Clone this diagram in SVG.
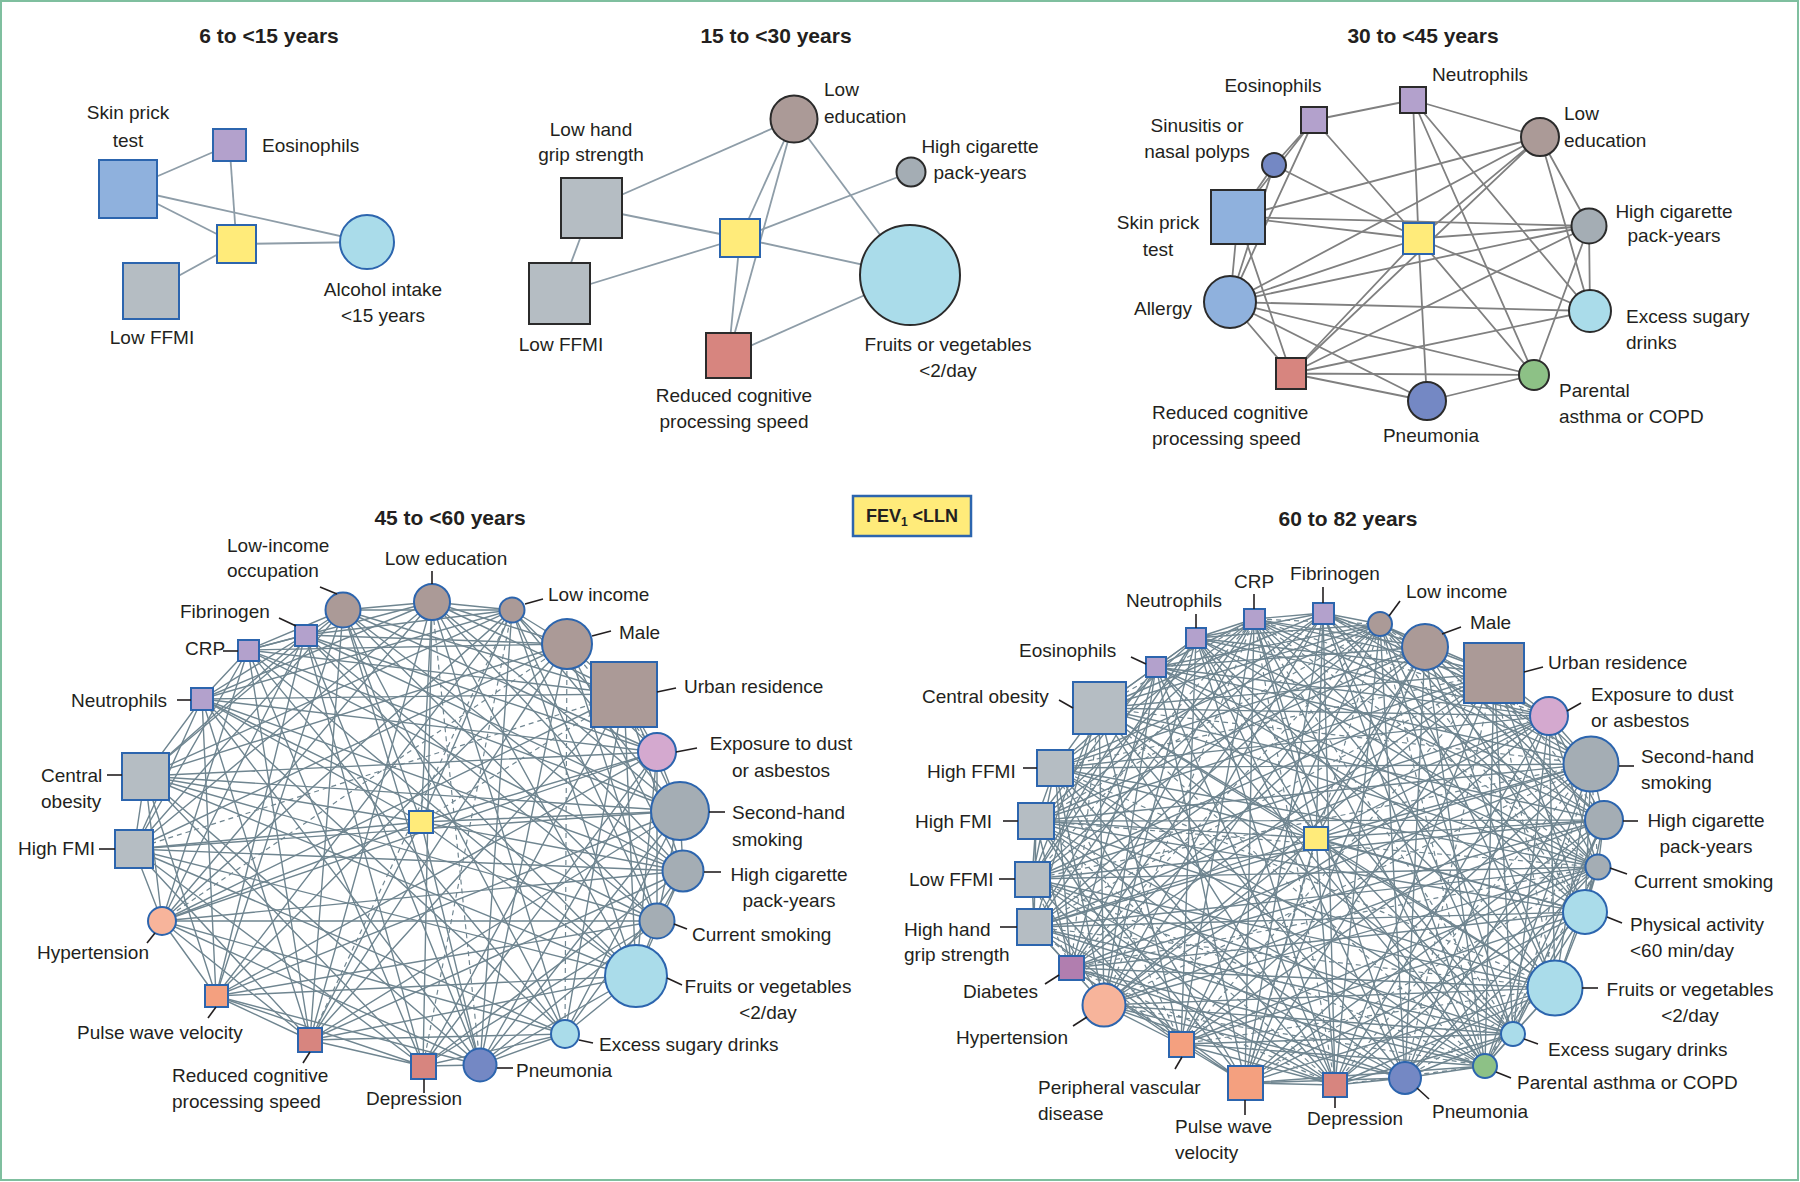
<svg xmlns="http://www.w3.org/2000/svg" width="1800" height="1182" viewBox="0 0 1800 1182">
<style>
text{font-family:"Liberation Sans",Arial,sans-serif;font-size:19px;fill:#231f20}
.ti{font-size:21px;font-weight:bold}
.m{text-anchor:middle}
.e12{stroke:#8e9da8;stroke-width:1.8;fill:none}
.e3{stroke:#808080;stroke-width:1.8;fill:none}
.e45{stroke:#6f8590;stroke-width:1.4;fill:none;stroke-linejoin:round}
.dash{stroke-dasharray:5 4;stroke-width:1.2}
.ld{stroke:#231f20;stroke-width:1.6}
.b{stroke:#2c65ae;stroke-width:2}
.k{stroke:#2b2b2b;stroke-width:2}
.yl{fill:#ffeb7a}.br{fill:#ab9a97}.gs{fill:#b5bdc3}.gc{fill:#a4adb4}.lb{fill:#aadcea}.bl{fill:#8fb1dd}.lv{fill:#b3a1cc}.sa{fill:#d7857f}.gr{fill:#8dc186}.pn{fill:#7488c4}.pk{fill:#d4a9cf}.pc{fill:#f7b49b}.or{fill:#f4a07f}.di{fill:#b17eaf}
</style>
<rect x="1" y="1" width="1797" height="1179" fill="#ffffff" stroke="#7fbf9f" stroke-width="2"/>

<g id="titles">
<text class="ti m" x="269" y="43">6 to &lt;15 years</text>
<text class="ti m" x="776" y="43">15 to &lt;30 years</text>
<text class="ti m" x="1423" y="43">30 to &lt;45 years</text>
<text class="ti m" x="450" y="525">45 to &lt;60 years</text>
<text class="ti m" x="1348" y="526">60 to 82 years</text>
</g>

<g id="legend">
<rect x="853" y="496" width="118" height="40" class="yl" stroke="#2c65ae" stroke-width="2.5"/>
<text x="912" y="522" class="m" style="font-weight:bold;font-size:18px">FEV<tspan style="font-size:12px" dy="4">1</tspan><tspan dy="-4"> &lt;LLN</tspan></text>
</g>

<g id="connectors">
<g id="p1-edges" class="e12">
<line x1="128" y1="189" x2="229.5" y2="145"/>
<line x1="128" y1="189" x2="367" y2="242"/>
<line x1="128" y1="189" x2="236.5" y2="244"/>
<line x1="229.5" y1="145" x2="236.5" y2="244"/>
<line x1="236.5" y1="244" x2="367" y2="242"/>
<line x1="151" y1="291" x2="236.5" y2="244"/>
</g>
<g id="p2-edges" class="e12">
<line x1="591.5" y1="208" x2="794" y2="119"/>
<line x1="591.5" y1="208" x2="740" y2="238"/>
<line x1="591.5" y1="208" x2="559.5" y2="293.5"/>
<line x1="559.5" y1="293.5" x2="740" y2="238"/>
<line x1="740" y1="238" x2="794" y2="119"/>
<line x1="740" y1="238" x2="911" y2="172"/>
<line x1="740" y1="238" x2="910" y2="275"/>
<line x1="740" y1="238" x2="728.5" y2="355.5"/>
<line x1="794" y1="119" x2="728.5" y2="355.5"/>
<line x1="794" y1="119" x2="910" y2="275"/>
<line x1="728.5" y1="355.5" x2="910" y2="275"/>
</g>
<g id="p3-edges" class="e3">
<path d="M1314,120L1413,100M1314,120L1274,165M1314,120L1238,217M1314,120L1230,302M1314,120L1418.5,238.5"/>
<path d="M1413,100L1540,137M1413,100L1418.5,238.5M1413,100L1590,311M1413,100L1534,375"/>
<path d="M1274,165L1238,217M1274,165L1230,302M1274,165L1418.5,238.5"/>
<path d="M1540,137L1238,217M1540,137L1230,302M1540,137L1418.5,238.5M1540,137L1291,373.5M1540,137L1589,226M1540,137L1590,311"/>
<path d="M1238,217L1589,226M1238,217L1418.5,238.5M1238,217L1291,373.5M1238,217L1230,302"/>
<path d="M1589,226L1418.5,238.5M1589,226L1230,302M1589,226L1291,373.5M1589,226L1590,311M1589,226L1534,375"/>
<path d="M1418.5,238.5L1590,311M1418.5,238.5L1427,401M1418.5,238.5L1534,375M1418.5,238.5L1291,373.5M1418.5,238.5L1230,302"/>
<path d="M1230,302L1590,311M1230,302L1534,375M1230,302L1427,401M1230,302L1291,373.5"/>
<path d="M1291,373.5L1590,311M1291,373.5L1534,375M1291,373.5L1427,401M1427,401L1534,375"/>
</g>
<g id="p4-edges" class="e45">
<path d="M432,602L343,610L512,610M624,694L343,610L657,752M683,871L343,610L657,921M565,1034L343,610L480,1065M310,1040L343,610L216,996M134,849L343,610L145,776M248,650L343,610L305,635"/>
<path d="M512,610L432,602L567,644M624,694L432,602L680,811M683,871L432,602L636,976M565,1034L432,602L423,1066M310,1040L432,602L162,921M134,849L432,602L202,699M432,602L248,650"/>
<path d="M567,644L512,610L657,752M680,811L512,610L657,921M636,976L512,610L480,1065M216,996L512,610L162,921M145,776L512,610L202,699M512,610L305,635"/>
<path d="M624,694L567,644L683,871M657,921L567,644L480,1065M310,1040L567,644L216,996M134,849L567,644L145,776M248,650L567,644L305,635"/>
<path d="M657,752L624,694L680,811M683,871L624,694L636,976M565,1034L624,694L423,1066M310,1040L624,694L162,921M202,699L624,694L248,650"/>
<path d="M680,811L657,752L657,921M636,976L657,752L480,1065M423,1066L657,752L216,996M162,921L657,752L145,776M202,699L657,752L305,635"/>
<path d="M683,871L680,811L657,921M565,1034L680,811L480,1065M310,1040L680,811L216,996M134,849L680,811L145,776M248,650L680,811L305,635"/>
<path d="M657,921L683,871L636,976M565,1034L683,871L423,1066M310,1040L683,871L162,921M134,849L683,871L202,699M683,871L248,650"/>
<path d="M636,976L657,921L480,1065M423,1066L657,921L216,996M162,921L657,921L145,776M202,699L657,921L305,635"/>
<path d="M565,1034L636,976L480,1065M310,1040L636,976L216,996M134,849L636,976L145,776M248,650L636,976L305,635"/>
<path d="M480,1065L565,1034L423,1066M310,1040L565,1034L162,921M134,849L565,1034L202,699M565,1034L248,650"/>
<path d="M423,1066L480,1065L216,996M162,921L480,1065L145,776M202,699L480,1065L305,635"/>
<path d="M310,1040L423,1066L216,996M134,849L423,1066L145,776M248,650L423,1066L305,635"/>
<path d="M216,996L310,1040L162,921M134,849L310,1040L202,699M310,1040L248,650"/>
<path d="M162,921L216,996L145,776M202,699L216,996L305,635"/>
<path d="M134,849L162,921L145,776M248,650L162,921L305,635"/>
<path d="M145,776L134,849L202,699M134,849L248,650"/>
<path d="M202,699L145,776L305,635M248,650L202,699L305,635M248,650L305,635"/>
<path d="M343,610L421,822L432,602M512,610L421,822L657,752M680,811L421,822L683,871M636,976L421,822L480,1065M310,1040L421,822L162,921M134,849L421,822L145,776M421,822L202,699"/>
<path class="dash" d="M432,602L480,1065M567,644L565,1034M162,921L567,644M512,610L423,1066M421,822L624,694M567,644L657,752M134,849L624,694M310,1040L512,610"/>
</g>
<g id="p5-edges" class="e45">
<path d="M1196,638L1156,667L1254,619M1380,624L1156,667L1425,647M1549,716L1156,667L1591,764M1598,867L1156,667L1585,912M1513,1034L1156,667L1485,1066M1335,1085L1156,667L1245,1083M1104,1005L1156,667L1071,968M1032,879L1156,667L1036,821M1156,667L1099,708"/>
<path d="M1254,619L1196,638L1323,613M1380,624L1196,638L1494,673M1549,716L1196,638L1604,820M1598,867L1196,638L1555,988M1513,1034L1196,638L1405,1078M1335,1085L1196,638L1181,1044M1104,1005L1196,638L1034,927M1032,879L1196,638L1055,768M1196,638L1099,708"/>
<path d="M1323,613L1254,619L1425,647M1494,673L1254,619L1591,764M1604,820L1254,619L1585,912M1555,988L1254,619L1485,1066M1405,1078L1254,619L1245,1083M1181,1044L1254,619L1071,968M1034,927L1254,619L1036,821M1254,619L1055,768"/>
<path d="M1380,624L1323,613L1425,647M1549,716L1323,613L1591,764M1598,867L1323,613L1585,912M1513,1034L1323,613L1485,1066M1335,1085L1323,613L1245,1083M1104,1005L1323,613L1071,968M1032,879L1323,613L1036,821M1323,613L1099,708"/>
<path d="M1425,647L1380,624L1494,673M1549,716L1380,624L1604,820M1598,867L1380,624L1555,988M1513,1034L1380,624L1405,1078M1335,1085L1380,624L1181,1044M1104,1005L1380,624L1034,927M1032,879L1380,624L1055,768M1380,624L1099,708"/>
<path d="M1494,673L1425,647L1591,764M1604,820L1425,647L1585,912M1555,988L1425,647L1485,1066M1405,1078L1425,647L1245,1083M1181,1044L1425,647L1071,968M1034,927L1425,647L1036,821M1425,647L1055,768"/>
<path d="M1549,716L1494,673L1591,764M1598,867L1494,673L1585,912M1513,1034L1494,673L1485,1066M1335,1085L1494,673L1245,1083M1104,1005L1494,673L1071,968M1032,879L1494,673L1036,821M1494,673L1099,708"/>
<path d="M1591,764L1549,716L1604,820M1598,867L1549,716L1555,988M1513,1034L1549,716L1405,1078M1335,1085L1549,716L1181,1044M1104,1005L1549,716L1034,927M1032,879L1549,716L1055,768M1549,716L1099,708"/>
<path d="M1604,820L1591,764L1585,912M1555,988L1591,764L1485,1066M1405,1078L1591,764L1245,1083M1181,1044L1591,764L1071,968M1034,927L1591,764L1036,821M1591,764L1055,768"/>
<path d="M1598,867L1604,820L1585,912M1513,1034L1604,820L1485,1066M1335,1085L1604,820L1245,1083M1104,1005L1604,820L1071,968M1032,879L1604,820L1036,821M1604,820L1099,708"/>
<path d="M1585,912L1598,867L1555,988M1513,1034L1598,867L1405,1078M1335,1085L1598,867L1181,1044M1104,1005L1598,867L1034,927M1032,879L1598,867L1055,768M1598,867L1099,708"/>
<path d="M1555,988L1585,912L1485,1066M1405,1078L1585,912L1245,1083M1181,1044L1585,912L1071,968M1034,927L1585,912L1036,821M1585,912L1055,768"/>
<path d="M1513,1034L1555,988L1485,1066M1335,1085L1555,988L1245,1083M1104,1005L1555,988L1071,968M1032,879L1555,988L1036,821M1555,988L1099,708"/>
<path d="M1485,1066L1513,1034L1405,1078M1335,1085L1513,1034L1181,1044M1104,1005L1513,1034L1034,927M1032,879L1513,1034L1055,768M1513,1034L1099,708"/>
<path d="M1405,1078L1485,1066L1245,1083M1181,1044L1485,1066L1071,968M1034,927L1485,1066L1036,821M1485,1066L1055,768"/>
<path d="M1335,1085L1405,1078L1245,1083M1104,1005L1405,1078L1071,968M1032,879L1405,1078L1036,821M1405,1078L1099,708"/>
<path d="M1245,1083L1335,1085L1181,1044M1104,1005L1335,1085L1034,927M1032,879L1335,1085L1055,768M1335,1085L1099,708"/>
<path d="M1181,1044L1245,1083L1071,968M1034,927L1245,1083L1036,821M1245,1083L1055,768"/>
<path d="M1104,1005L1181,1044L1071,968M1032,879L1181,1044L1036,821M1181,1044L1099,708"/>
<path d="M1071,968L1104,1005L1034,927M1032,879L1104,1005L1055,768M1104,1005L1099,708"/>
<path d="M1034,927L1071,968L1036,821M1071,968L1055,768M1032,879L1034,927L1036,821M1034,927L1099,708M1036,821L1032,879L1055,768M1032,879L1099,708M1036,821L1055,768L1099,708"/>
<path d="M1196,638L1316,838L1254,619M1323,613L1316,838L1425,647M1549,716L1316,838L1591,764M1604,820L1316,838L1585,912M1555,988L1316,838L1485,1066M1335,1085L1316,838L1245,1083M1104,1005L1316,838L1034,927M1036,821L1316,838L1099,708"/>
<path class="dash" d="M1380,624L1254,619L1549,716M1598,867L1254,619L1513,1034M1335,1085L1254,619L1104,1005M1032,879L1254,619L1099,708M1591,764L1380,624L1585,912M1485,1066L1380,624L1245,1083M1071,968L1380,624L1036,821M1604,820L1494,673L1555,988M1405,1078L1494,673L1181,1044M1034,927L1494,673L1055,768M1598,867L1591,764L1513,1034M1335,1085L1591,764L1104,1005M1032,879L1591,764L1099,708M1485,1066L1598,867L1245,1083M1071,968L1598,867L1036,821M1405,1078L1555,988L1181,1044M1034,927L1555,988L1055,768M1335,1085L1485,1066L1104,1005M1032,879L1485,1066L1099,708M1071,968L1335,1085L1036,821M1034,927L1181,1044L1055,768M1032,879L1071,968L1099,708"/>
</g>
</g>

<g id="panel1">
<g id="p1-skin"><rect x="99" y="160" width="58" height="58" class="bl b"/><text class="m" x="128" y="119">Skin prick</text><text class="m" x="128" y="147">test</text></g>
<g id="p1-eos"><rect x="213" y="129" width="33" height="32" class="lv b"/><text x="262" y="152">Eosinophils</text></g>
<g id="p1-fev"><rect x="217" y="225" width="39" height="38" class="yl b"/></g>
<g id="p1-lffmi"><rect x="123" y="263" width="56" height="56" class="gs b"/><text class="m" x="152" y="344">Low FFMI</text></g>
<g id="p1-alc"><circle cx="367" cy="242" r="27" class="lb b"/><text class="m" x="383" y="296">Alcohol intake</text><text class="m" x="383" y="322">&lt;15 years</text></g>
</g>

<g id="panel2">
<g id="p2-le"><circle cx="794" cy="119" r="23.5" class="br k"/><text x="824" y="96">Low</text><text x="824" y="123">education</text></g>
<g id="p2-hc"><circle cx="911" cy="172" r="14.5" class="gc k"/><text class="m" x="980" y="153">High cigarette</text><text class="m" x="980" y="179">pack-years</text></g>
<g id="p2-lhg"><rect x="561" y="178" width="61" height="60" class="gs k"/><text class="m" x="591" y="136">Low hand</text><text class="m" x="591" y="161">grip strength</text></g>
<g id="p2-lffmi"><rect x="529" y="263" width="61" height="61" class="gs k"/><text class="m" x="561" y="351">Low FFMI</text></g>
<g id="p2-fev"><rect x="720" y="219" width="40" height="38" class="yl b"/></g>
<g id="p2-rc"><rect x="706" y="333" width="45" height="45" class="sa k"/><text class="m" x="734" y="402">Reduced cognitive</text><text class="m" x="734" y="428">processing speed</text></g>
<g id="p2-fru"><circle cx="910" cy="275" r="50" class="lb k"/><text class="m" x="948" y="351">Fruits or vegetables</text><text class="m" x="948" y="377">&lt;2/day</text></g>
</g>

<g id="panel3">
<g id="p3-eos"><rect x="1301" y="107" width="26" height="26" class="lv k"/><text class="m" x="1273" y="92">Eosinophils</text></g>
<g id="p3-neu"><rect x="1400" y="87" width="26" height="26" class="lv k"/><text x="1432" y="81">Neutrophils</text></g>
<g id="p3-le"><circle cx="1540" cy="137" r="19" class="br k"/><text x="1564" y="120">Low</text><text x="1564" y="147">education</text></g>
<g id="p3-sin"><circle cx="1274" cy="165" r="12" class="pn k"/><text class="m" x="1197" y="132">Sinusitis or</text><text class="m" x="1197" y="158">nasal polyps</text></g>
<g id="p3-spt"><rect x="1211" y="190" width="54" height="54" class="bl k"/><text class="m" x="1158" y="229">Skin prick</text><text class="m" x="1158" y="256">test</text></g>
<g id="p3-fev"><rect x="1403" y="223" width="31" height="31" class="yl b"/></g>
<g id="p3-hc"><circle cx="1589" cy="226" r="17.5" class="gc k"/><text class="m" x="1674" y="218">High cigarette</text><text class="m" x="1674" y="242">pack-years</text></g>
<g id="p3-all"><circle cx="1230" cy="302" r="26" class="bl k"/><text class="m" x="1163" y="315">Allergy</text></g>
<g id="p3-esd"><circle cx="1590" cy="311" r="21" class="lb k"/><text x="1626" y="323">Excess sugary</text><text x="1626" y="349">drinks</text></g>
<g id="p3-rc"><rect x="1276" y="358" width="30" height="31" class="sa k"/><text x="1152" y="419">Reduced cognitive</text><text x="1152" y="445">processing speed</text></g>
<g id="p3-par"><circle cx="1534" cy="375" r="15" class="gr k"/><text x="1559" y="397">Parental</text><text x="1559" y="423">asthma or COPD</text></g>
<g id="p3-pne"><circle cx="1427" cy="401" r="19" class="pn k"/><text class="m" x="1431" y="442">Pneumonia</text></g>
</g>

<g id="panel4">
<g id="bl-lio"><circle cx="343" cy="610" r="17.5" class="br b"/><line x1="320" y1="587" x2="337" y2="594" class="ld"/><text x="227" y="552">Low-income</text><text x="227" y="577">occupation</text></g>
<g id="bl-le"><circle cx="432" cy="602" r="18" class="br b"/><line x1="432" y1="571" x2="432" y2="584" class="ld"/><text class="m" x="446" y="565">Low education</text></g>
<g id="bl-li"><circle cx="512" cy="610" r="12.5" class="br b"/><line x1="525" y1="604" x2="543" y2="599" class="ld"/><text x="548" y="601">Low income</text></g>
<g id="bl-male"><circle cx="567" cy="644" r="25" class="br b"/><line x1="592" y1="636" x2="611" y2="631" class="ld"/><text x="619" y="639">Male</text></g>
<g id="bl-urb"><rect x="591" y="662" width="66" height="65" class="br b"/><line x1="657" y1="692" x2="676" y2="688" class="ld"/><text x="684" y="693">Urban residence</text></g>
<g id="bl-exp"><circle cx="657" cy="752" r="19" class="pk b"/><line x1="676" y1="752" x2="697" y2="748" class="ld"/><text class="m" x="781" y="750">Exposure to dust</text><text class="m" x="781" y="777">or asbestos</text></g>
<g id="bl-shs"><circle cx="680" cy="811" r="29" class="gc b" stroke-width="2.6"/><line x1="709" y1="812" x2="725" y2="812" class="ld"/><text x="732" y="819">Second-hand</text><text x="732" y="846">smoking</text></g>
<g id="bl-hcp"><circle cx="683" cy="871" r="20.5" class="gc b"/><line x1="704" y1="872" x2="721" y2="872" class="ld"/><text class="m" x="789" y="881">High cigarette</text><text class="m" x="789" y="907">pack-years</text></g>
<g id="bl-cs"><circle cx="657" cy="921" r="17.5" class="gc b"/><line x1="674" y1="924" x2="687" y2="929" class="ld"/><text x="692" y="941">Current smoking</text></g>
<g id="bl-fru"><circle cx="636" cy="976" r="31" class="lb b"/><line x1="667" y1="978" x2="682" y2="985" class="ld"/><text class="m" x="768" y="993">Fruits or vegetables</text><text class="m" x="768" y="1019">&lt;2/day</text></g>
<g id="bl-esd"><circle cx="565" cy="1034" r="14" class="lb b"/><line x1="579" y1="1040" x2="593" y2="1043" class="ld"/><text x="599" y="1051">Excess sugary drinks</text></g>
<g id="bl-pne"><circle cx="480" cy="1065" r="16.5" class="pn b"/><line x1="497" y1="1068" x2="513" y2="1068" class="ld"/><text x="516" y="1077">Pneumonia</text></g>
<g id="bl-dep"><rect x="411" y="1054" width="25" height="25" class="sa b"/><line x1="424" y1="1079" x2="424" y2="1093" class="ld"/><text class="m" x="414" y="1105">Depression</text></g>
<g id="bl-rc"><rect x="298" y="1028" width="24" height="24" class="sa b"/><line x1="303" y1="1063" x2="310" y2="1052" class="ld"/><text x="172" y="1082">Reduced cognitive</text><text x="172" y="1108">processing speed</text></g>
<g id="bl-pwv"><rect x="205" y="985" width="23" height="22" class="or b"/><line x1="208" y1="1018" x2="216" y2="1007" class="ld"/><text x="77" y="1039">Pulse wave velocity</text></g>
<g id="bl-hyp"><circle cx="162" cy="921" r="14" class="pc b"/><line x1="147" y1="943" x2="155" y2="933" class="ld"/><text x="37" y="959">Hypertension</text></g>
<g id="bl-hfmi"><rect x="115" y="830" width="38" height="38" class="gs b"/><line x1="99" y1="849" x2="115" y2="849" class="ld"/><text x="18" y="855">High FMI</text></g>
<g id="bl-co"><rect x="122" y="753" width="47" height="47" class="gs b"/><line x1="107" y1="775" x2="122" y2="775" class="ld"/><text x="41" y="782">Central</text><text x="41" y="808">obesity</text></g>
<g id="bl-neu"><rect x="191" y="688" width="22" height="22" class="lv b"/><line x1="177" y1="700" x2="191" y2="700" class="ld"/><text x="71" y="707">Neutrophils</text></g>
<g id="bl-crp"><rect x="238" y="640" width="21" height="21" class="lv b"/><line x1="223" y1="651" x2="238" y2="651" class="ld"/><text x="185" y="655">CRP</text></g>
<g id="bl-fib"><rect x="295" y="625" width="22" height="21" class="lv b"/><line x1="279" y1="618" x2="296" y2="626" class="ld"/><text x="180" y="618">Fibrinogen</text></g>
<g id="bl-fev"><rect x="409" y="811" width="24" height="22" class="yl b"/></g>
</g>

<g id="panel5">
<g id="br-eos"><rect x="1146" y="657" width="20" height="20" class="lv b"/><line x1="1131" y1="657" x2="1146" y2="664" class="ld"/><text x="1019" y="657">Eosinophils</text></g>
<g id="br-neu"><rect x="1186" y="628" width="20" height="20" class="lv b"/><line x1="1196" y1="614" x2="1196" y2="628" class="ld"/><text class="m" x="1174" y="607">Neutrophils</text></g>
<g id="br-crp"><rect x="1244" y="609" width="21" height="20" class="lv b"/><line x1="1254" y1="594" x2="1254" y2="609" class="ld"/><text class="m" x="1254" y="588">CRP</text></g>
<g id="br-fib"><rect x="1313" y="603" width="21" height="21" class="lv b"/><line x1="1323" y1="587" x2="1323" y2="603" class="ld"/><text class="m" x="1335" y="580">Fibrinogen</text></g>
<g id="br-li"><circle cx="1380" cy="624" r="12" class="br b"/><line x1="1389" y1="616" x2="1400" y2="601" class="ld"/><text x="1406" y="598">Low income</text></g>
<g id="br-male"><circle cx="1425" cy="647" r="23" class="br b"/><line x1="1442" y1="634" x2="1461" y2="627" class="ld"/><text x="1470" y="629">Male</text></g>
<g id="br-urb"><rect x="1464" y="643" width="60" height="60" class="br b"/><line x1="1524" y1="672" x2="1543" y2="667" class="ld"/><text x="1548" y="669">Urban residence</text></g>
<g id="br-exp"><circle cx="1549" cy="716" r="19" class="pk b"/><line x1="1567" y1="711" x2="1581" y2="703" class="ld"/><text x="1591" y="701">Exposure to dust</text><text x="1591" y="727">or asbestos</text></g>
<g id="br-shs"><circle cx="1591" cy="764" r="27.5" class="gc b"/><line x1="1619" y1="766" x2="1634" y2="766" class="ld"/><text x="1641" y="763">Second-hand</text><text x="1641" y="789">smoking</text></g>
<g id="br-hcp"><circle cx="1604" cy="820" r="19" class="gc b"/><line x1="1623" y1="821" x2="1638" y2="821" class="ld"/><text class="m" x="1706" y="827">High cigarette</text><text class="m" x="1706" y="853">pack-years</text></g>
<g id="br-cs"><circle cx="1598" cy="867" r="12.5" class="gc b"/><line x1="1610" y1="868" x2="1627" y2="874" class="ld"/><text x="1634" y="888">Current smoking</text></g>
<g id="br-pa"><circle cx="1585" cy="912" r="22" class="lb b"/><line x1="1607" y1="917" x2="1622" y2="923" class="ld"/><text x="1630" y="931">Physical activity</text><text x="1630" y="957">&lt;60 min/day</text></g>
<g id="br-fru"><circle cx="1555" cy="988" r="27.5" class="lb b" stroke-width="2.5"/><line x1="1582" y1="988" x2="1598" y2="988" class="ld"/><text class="m" x="1690" y="996">Fruits or vegetables</text><text class="m" x="1690" y="1022">&lt;2/day</text></g>
<g id="br-esd"><circle cx="1513" cy="1034" r="12" class="lb b"/><line x1="1524" y1="1039" x2="1538" y2="1044" class="ld"/><text x="1548" y="1056">Excess sugary drinks</text></g>
<g id="br-par"><circle cx="1485" cy="1066" r="12" class="gr b"/><line x1="1496" y1="1072" x2="1511" y2="1078" class="ld"/><text x="1517" y="1089">Parental asthma or COPD</text></g>
<g id="br-pne"><circle cx="1405" cy="1078" r="16" class="pn b"/><line x1="1417" y1="1088" x2="1429" y2="1099" class="ld"/><text x="1432" y="1118">Pneumonia</text></g>
<g id="br-dep"><rect x="1323" y="1073" width="24" height="24" class="sa b"/><line x1="1335" y1="1097" x2="1335" y2="1108" class="ld"/><text class="m" x="1355" y="1125">Depression</text></g>
<g id="br-pwv"><rect x="1228" y="1066" width="35" height="34" class="or b"/><line x1="1245" y1="1100" x2="1245" y2="1115" class="ld"/><text x="1175" y="1133">Pulse wave</text><text x="1175" y="1159">velocity</text></g>
<g id="br-pvd"><rect x="1169" y="1032" width="25" height="25" class="or b"/><line x1="1175" y1="1069" x2="1182" y2="1057" class="ld"/><text x="1038" y="1094">Peripheral vascular</text><text x="1038" y="1120">disease</text></g>
<g id="br-hyp"><circle cx="1104" cy="1005" r="21.5" class="pc b"/><line x1="1073" y1="1026" x2="1087" y2="1017" class="ld"/><text x="956" y="1044">Hypertension</text></g>
<g id="br-dia"><rect x="1059" y="956" width="25" height="24" class="di b"/><line x1="1045" y1="984" x2="1059" y2="975" class="ld"/><text x="963" y="998">Diabetes</text></g>
<g id="br-hhg"><rect x="1017" y="909" width="35" height="36" class="gs b"/><line x1="1000" y1="927" x2="1017" y2="927" class="ld"/><text x="904" y="936">High hand</text><text x="904" y="961">grip strength</text></g>
<g id="br-lffmi"><rect x="1015" y="862" width="35" height="35" class="gs b"/><line x1="999" y1="879" x2="1015" y2="879" class="ld"/><text x="909" y="886">Low FFMI</text></g>
<g id="br-hfmi"><rect x="1018" y="803" width="36" height="36" class="gs b"/><line x1="1003" y1="821" x2="1018" y2="821" class="ld"/><text x="915" y="828">High FMI</text></g>
<g id="br-hffmi"><rect x="1037" y="750" width="36" height="36" class="gs b"/><line x1="1023" y1="768" x2="1037" y2="768" class="ld"/><text x="927" y="778">High FFMI</text></g>
<g id="br-co"><rect x="1073" y="682" width="53" height="52" class="gs b"/><line x1="1059" y1="700" x2="1073" y2="708" class="ld"/><text x="922" y="703">Central obesity</text></g>
<g id="br-fev"><rect x="1304" y="827" width="24" height="23" class="yl b"/></g>
</g>
</svg>
